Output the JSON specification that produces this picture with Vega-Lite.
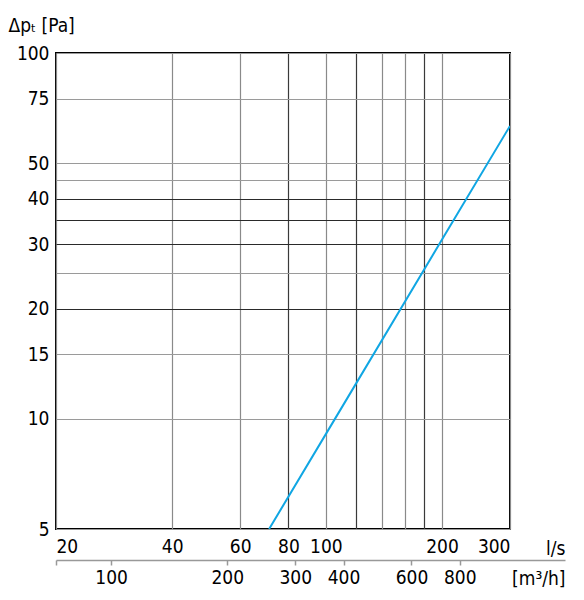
{
  "$schema": "https://vega.github.io/schema/vega-lite/v6.json",
  "width": 454,
  "height": 476,
  "autosize": {"type": "none"},
  "padding": {"left": 56, "top": 53, "right": 74, "bottom": 71},
  "background": "white",
  "config": {
    "view": {"stroke": "black", "strokeWidth": 2},
    "font": "'Liberation Sans Narrow', 'DejaVu Sans Condensed', Roboto, sans-serif",
    "axis": {"labelFont": "'Liberation Sans Narrow', 'DejaVu Sans Condensed', Roboto, sans-serif", "titleFont": "'Liberation Sans Narrow', 'DejaVu Sans Condensed', Roboto, sans-serif", "labelFontSize": 19, "titleFontSize": 19, "labelColor": "black", "titleColor": "black", "titleFontWeight": "normal"}
  },
  "data": {"values": [
    {"ls": 71.3, "m3h": 256.7, "dp": 5},
    {"ls": 105.6, "m3h": 380.2, "dp": 10},
    {"ls": 200, "m3h": 720, "dp": 30.9},
    {"ls": 300, "m3h": 1080, "dp": 63.2}
  ]},
  "resolve": {"scale": {"x": "independent"}, "axis": {"x": "independent"}},
  "layer": [
    {
      "mark": {"type": "line", "color": "#10a6e3", "strokeWidth": 2, "clip": true},
      "encoding": {
        "x": {"field": "ls", "type": "quantitative",
          "scale": {"type": "log", "domain": [20, 300], "nice": false},
          "axis": {"orient": "bottom", "values": [20, 40, 60, 80, 100, 120, 140, 160, 180, 200, 300],
            "labelExpr": "indexof([120,140,160,180], datum.value) >= 0 ? '' : datum.value",
            "grid": true, "gridWidth": 1.2,
            "gridColor": {"condition": {"test": "indexof([80,120,180], datum.value) >= 0", "value": "#3a3a3a"}, "value": "#8a8a8a"},
            "domain": false, "ticks": false, "labelPadding": 8, "labelFlush": true, "labelOverlap": false,
            "title": "l/s", "titleX": 509, "titleY": 19, "titleAlign": "right", "titleBaseline": "middle", "titleAngle": 0}},
        "y": {"field": "dp", "type": "quantitative",
          "scale": {"type": "log", "domain": [5, 100], "nice": false},
          "axis": {"values": [5, 10, 15, 20, 25, 30, 35, 40, 45, 50, 75, 100],
            "labelExpr": "indexof([25,35,45], datum.value) >= 0 ? '' : datum.value",
            "grid": true, "gridWidth": 1.2,
            "gridColor": {"condition": {"test": "indexof([20,30,35,40], datum.value) >= 0", "value": "#2a2a2a"}, "value": "#9a9a9a"},
            "domain": false, "ticks": false, "labelPadding": 7, "labelOverlap": false,
            "title": "Δpₜ [Pa]", "titleX": -48, "titleY": -28, "titleAlign": "left", "titleBaseline": "middle", "titleAngle": 0}}
      }
    },
    {
      "mark": {"type": "line", "opacity": 0},
      "encoding": {
        "x": {"field": "m3h", "type": "quantitative",
          "scale": {"type": "log", "domain": [72, 1499], "range": [0, 509], "nice": false},
          "axis": {"orient": "bottom", "offset": 31, "values": [72, 100, 200, 300, 400, 600, 800],
            "labelExpr": "datum.value == 72 ? '' : datum.value",
            "grid": false, "domain": true, "domainColor": "#999999", "domainWidth": 1.5,
            "ticks": true, "tickSize": 5, "tickColor": "#999999", "tickWidth": 1.5,
            "labelPadding": 3, "labelOverlap": false, "labelFlush": false,
            "title": "[m³/h]", "titleX": 509, "titleY": 18, "titleAlign": "right", "titleBaseline": "middle", "titleAngle": 0}},
        "y": {"field": "dp", "type": "quantitative"}
      }
    }
  ]
}
